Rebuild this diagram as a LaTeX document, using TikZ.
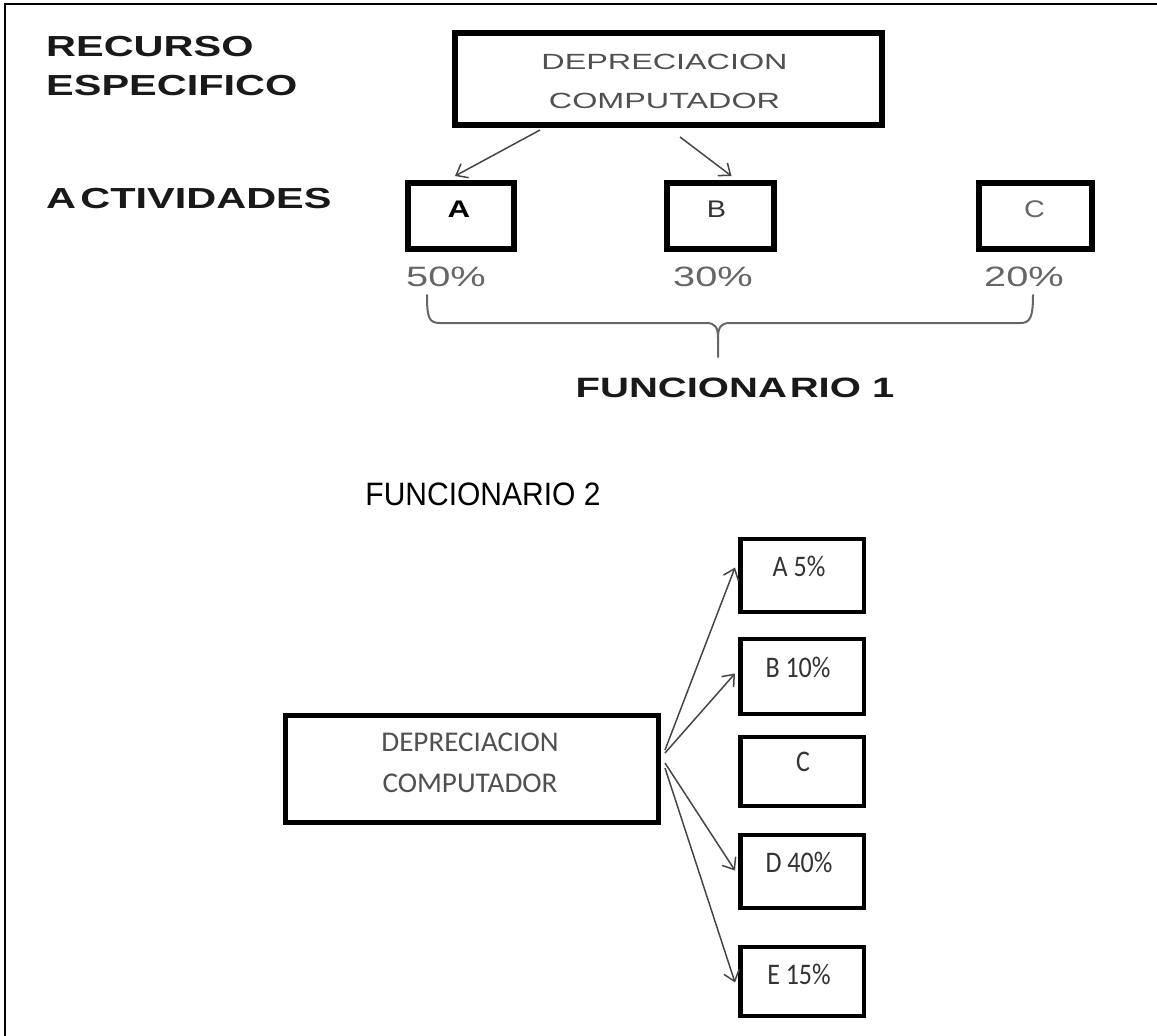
\documentclass[tikz,border=0pt]{standalone}
\usepackage{graphicx}
\usepackage{fontspec}
\setmainfont{Liberation Sans}
\newfontfamily\calib{Carlito}
\usetikzlibrary{arrows.meta,calc}

\definecolor{boxtext}{HTML}{505050}
\definecolor{pcttext}{HTML}{666666}
\definecolor{smalltext}{HTML}{333333}
\definecolor{linkgray}{HTML}{454545}

% wide sans lettering used in the upper part
\newcommand{\widetext}[1]{\scalebox{1.43}[1]{#1}}

\tikzset{
  heavybox/.style={draw=black, line width=6pt, minimum width=#1, minimum height=66pt, inner sep=0pt},
  rightbox/.style={draw=black, line width=4.5pt, minimum width=123.5pt, minimum height=#1, inner sep=0pt},
  heading/.style={anchor=west, inner sep=0pt, font=\fontsize{29}{34}\selectfont\bfseries, text=black!90},
  pct/.style={inner sep=0pt, font=\fontsize{28}{30}\selectfont, text=pcttext},
  smalllbl/.style={inner sep=0pt, font=\calib\fontsize{26}{30}\selectfont, text=smalltext},
  link/.style={draw=linkgray, line width=1.5pt, -{Straight Barb[length=10pt,width=16pt,line width=1.5pt]}},
  bracepath/.style={draw=pcttext, line width=2pt, line cap=round, line join=round}
}

\begin{document}
\begin{tikzpicture}[x=1pt,y=-1pt]
\useasboundingbox (0,0) rectangle (1157,1036);

% frame: top and left edges
\draw[line width=2.5pt] (5,1036) -- (5,4) -- (1157,4);

% row headings
\node[heading] (hrec) at (46,47) {\widetext{RECURSO}};
\node[heading] (hesp) at (46,86) {\widetext{ESPECIFICO}};
\node[heading] (hact) at (46,199) {\widetext{A\kern3pt CTIVIDADES}};

% resource box
\node[heavybox=427pt, minimum height=92pt] (dep) at (668.5,79) {};
\node[inner sep=0pt, align=center, font=\fontsize{22}{39}\selectfont, text=boxtext]
  (deptxt) at ($(dep.center)+(-4,2)$) {\scalebox{1.47}[1]{DEPRECIACION}\\\scalebox{1.47}[1]{COMPUTADOR}};

% activity boxes
\node[heavybox=106pt] (actA) at (461,216) {};
\node[heavybox=107pt] (actB) at (720.5,216) {};
\node[heavybox=113pt] (actC) at (1035.5,216) {};
\node[inner sep=0pt, font=\fontsize{24}{26}\selectfont\bfseries] (lA) at ($(actA.center)+(-2,-7)$) {\scalebox{1.3}[1]{A}};
\node[inner sep=0pt, font=\fontsize{24}{26}\selectfont, text=smalltext] (lB) at ($(actB.center)+(-4,-7)$) {\scalebox{1.2}[1]{B}};
\node[inner sep=0pt, font=\fontsize{24}{26}\selectfont, text=pcttext] (lC) at ($(actC.center)+(-1,-7)$) {\scalebox{1.2}[1]{C}};

% shares
\node[pct] (pA) at (446,277) {\scalebox{1.42}[1]{50\%}};
\node[pct] (pB) at (713,277) {\scalebox{1.42}[1]{30\%}};
\node[pct] (pC) at (1024,277) {\scalebox{1.42}[1]{20\%}};

% links resource -> activities
\coordinate (t1) at (540,130);
\coordinate (t2) at (680,137);
\draw[link] (t1) -- ($(actA.north)+(-6,-4)$);
\draw[link] (t2) -- ($(actB.north)+(11,-4)$);

% brace grouping the three shares
\coordinate (bl) at (427,295);
\coordinate (bm) at (718,357);
\coordinate (br) at (1033,295);
\draw[bracepath] (bl) .. controls (427,318) and (429,323) .. (440,323) -- (706,323)
  .. controls (715,323) and (718,327) .. (718,338) -- (bm);
\draw[bracepath] (718,338) .. controls (718,327) and (721,323) .. (730,323) -- (1020,323)
  .. controls (1030,323) and (1033,318) .. (br);

\node[inner sep=0pt, font=\fontsize{28}{32}\selectfont\bfseries, text=black!90] (f1) at (735,388) {\widetext{FUNCIONA\kern2pt RIO 1}};

% second employee
\node[inner sep=0pt, font=\fontsize{30}{34}\selectfont, text=black] (f2) at (483,494) {\scalebox{1}[1.08]{FUNCIONARIO 2}};

\node[draw=black, line width=5pt, minimum width=373pt, minimum height=107pt, inner sep=0pt] (dep2) at (472,769) {};
\node[inner sep=0pt, align=center, font=\calib\fontsize{26}{41}\selectfont, text=boxtext]
  (dep2txt) at ($(dep2.center)+(-2,-6)$) {\scalebox{1.12}[1.1]{DEPRECIACION}\\\scalebox{1.12}[1.1]{COMPUTADOR}};

\node[rightbox=73pt] (ra) at (802,575.5) {};
\node[rightbox=75pt] (rb) at (802,676.5) {};
\node[rightbox=69pt] (rc) at (802,771.5) {};
\node[rightbox=73pt] (rd) at (802,871.5) {};
\node[rightbox=69pt] (re) at (802,981.5) {};

\node[smalllbl] (la) at (799,566) {\scalebox{1}[1.15]{A 5\%}};
\node[smalllbl] (lb) at (798,667) {\scalebox{1}[1.15]{B 10\%}};
\node[smalllbl] (lc) at (803,762) {\scalebox{1}[1.15]{C}};
\node[smalllbl] (ld) at (799,862) {\scalebox{1}[1.15]{D 40\%}};
\node[smalllbl] (le) at (799,974) {\scalebox{1}[1.15]{E 15\%}};

% links to the second employee's activities
\coordinate (s1) at ($(dep2.east)+(4,-19)$);
\coordinate (s2) at ($(dep2.east)+(4,-16)$);
\coordinate (s3) at ($(dep2.east)+(4,-6)$);
\coordinate (s4) at ($(dep2.east)+(4,-1)$);
\draw[link] (s1) -- ($(ra.west)+(-3,-8)$);
\draw[link] (s2) -- ($(rb.west)+(-3,-3)$);
\draw[link] (s3) -- ($(rd.west)+(-3,-1)$);
\draw[link] (s4) -- ($(re.west)+(-3,1)$);
\end{tikzpicture}
\end{document}
